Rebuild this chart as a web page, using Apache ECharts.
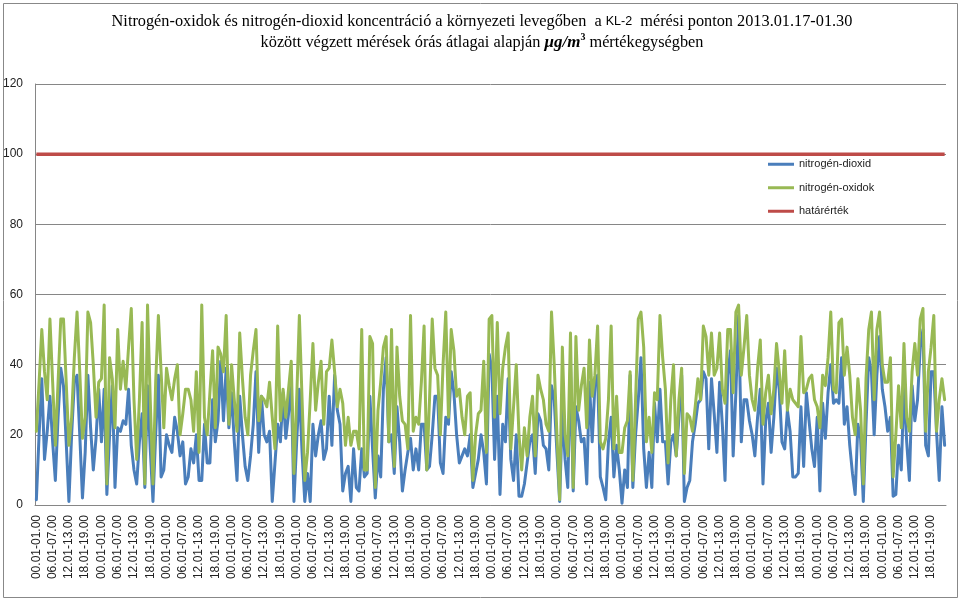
<!DOCTYPE html>
<html>
<head>
<meta charset="utf-8">
<script src="https://cdn.jsdelivr.net/npm/echarts@6/dist/echarts.min.js"></script>
<style>
html,body{margin:0;padding:0;background:#fff;}
#chart{width:964px;height:598px;}
</style>
</head>
<body>
<div id="chart"></div>
<script>
// 24 hourly tick labels, repeated for the 14 days 2013.01.17-01.30
var hourLabels = ["00.01-01.00","01.01-02.00","02.01-03.00","03.01-04.00","04.01-05.00","05.01-06.00",
  "06.01-07.00","07.01-08.00","08.01-09.00","09.01-10.00","10.01-11.00","11.01-12.00",
  "12.01-13.00","13.01-14.00","14.01-15.00","15.01-16.00","16.01-17.00","17.01-18.00",
  "18.01-19.00","19.01-20.00","20.01-21.00","21.01-22.00","22.01-23.00","23.01-24.00"];
var dayCount = 14;
var yTicks = [0, 20, 40, 60, 80, 100, 120];
var seriesNames = ["nitrogén-dioxid", "nitrogén-oxidok", "határérték"];
var limitValue = 100;

var no2 = [
1.5,20,36,13,21,31,18,7,25,39,34,18,1,20,35,37,20,2,15,37,22,10,19,33,18,33,3,20,34,5,22,21,24,23,33,17,10,6,18,26,5,34,16,1,20,37,8,10,20,17,15,25,21,14,18,6,
8,16,12,20,7,7,23,12,12,30,18,24,41,24,39,22,32,18,7,31,20,11,7,14,23,38,15,31,20,18,21,1,12,23,18,32,19,26,35,1,18,33,15,1,9,1,23,14,20,24,13,16,31,17,37,27,
23,4,9,11,1,16,5,4,16,8,9,31,16,2,14,8,33,42,18,20,9,28,18,4,10,15,19,10,16,10,23,23,10,11,20,31,31,12,9,25,23,38,32,20,12,14,16,14,20,5,9,13,20,15,6,43,
39,13,31,3,23,18,36,13,7,20,2.5,2.5,6,12,18,20,9,26,24,17,16,10,34,30,15,1,27,13,5,40,4,28,24,18,19,6,35,18,34,37,8,5,1.5,18,25,8,17,10,0.5,10,5,37,5,20,30,42,
16,5,15,5,29,18,33,18,18,6,18,20,14,25,37,1,5,7,18,23,29,30,38,36,16,36,26,15,35,23,7,37,44,14,32,54,18,30,30,24,20,14,25,33,6,24,29,15,25,39,33,18,16,27,21,8,
8,9,28,11,32,24,16,11,25,4,29,19,32,40,29,30,29,42,23,28,17,9,3,23,19,1,23,42,38,20,37,48,33,28,21,25,2.5,3,17,10,34,18,7,34,24,30,45,50,17,14,38,38,21,7,28,17
];
var nox = [
21,35,50,38,30,53,35,17,35,53,53,35,17,25,42,55,38,19,25,55,52,40,25,35,36,57,6,42,36,22,50,33,41,33,45,56,30,13,30,52,6,57,30,6,35,54,38,22,39,34,30,36,40,20,26,33,
33,30,21,38,15,57,25,20,32,44,22,45,43,38,54,23,40,30,21,49,36,25,20,37,44,50,24,31,30,28,35,25,16,51,24,33,25,33,41,9,30,54,30,7,15,30,46,27,35,41,23,38,39,47,38,28,
33,29,17,25,17,21,21,16,50,10,10,48,46,5,27,35,45,48,18,50,11,45,31,24,23,16,54,21,25,23,35,51,10,30,53,39,37,20,40,55,25,50,44,31,33,25,20,31,32,7,20,26,27,41,15,53,
54,25,52,26,39,45,49,16,28,40,20,10,22,14,25,31,14,37,33,30,23,21,55,40,20,1.5,45,20,14,49,5,48,27,34,39,22,47,31,37,51,18,16,19,30,51,16,31,15,15,22,24,38,7,30,53,55,
45,18,25,15,32,30,54,42,33,12,30,40,14,30,39,9,26,25,21,28,36,30,51,48,37,49,37,39,49,33,29,50,50,32,55,57,37,45,54,37,30,27,39,47,23,32,37,26,33,46,38,29,44,27,33,30,
29,28,48,32,33,36,37,30,28,22,37,34,42,55,33,32,52,53,37,45,37,25,20,36,27,6,36,50,55,30,50,55,40,35,35,42,8,20,34,22,46,25,21,38,46,37,53,56,21,38,45,54,21,30,36,30
];

var categories = [];
for (var d = 0; d < dayCount; d++) { categories = categories.concat(hourLabels); }
var limit = categories.map(function(){ return limitValue; });

var chart = echarts.init(document.getElementById('chart'), null, {renderer: 'canvas'});
var option = {
  backgroundColor: '#ffffff',
  animation: false,
  title: {
    left: 'center',
    top: 6,
    text: '{a|Nitrogén-oxidok és nitrogén-dioxid koncentráció a környezeti levegőben  a }{k|KL-2}{a|  mérési ponton 2013.01.17-01.30}\n{a|között végzett mérések órás átlagai alapján }{b|μg/m}{s|3}{a| mértékegységben}',
    textStyle: {
      fontWeight: 'normal',
      rich: {
        a: {fontFamily: 'Liberation Serif', fontSize: 16.3, fontWeight: 'normal', color: '#000', lineHeight: 21},
        k: {fontFamily: 'Liberation Sans', fontSize: 12.5, fontWeight: 'normal', color: '#000', lineHeight: 21},
        b: {fontFamily: 'Liberation Serif', fontSize: 17, fontWeight: 'bold', fontStyle: 'italic', color: '#000', lineHeight: 21},
        s: {fontFamily: 'Liberation Serif', fontSize: 10, fontWeight: 'bold', color: '#000', lineHeight: 21, verticalAlign: 'top', padding: [0, 0, 6, 0]}
      }
    }
  },
  legend: {
    orient: 'vertical',
    left: 763,
    top: 153,
    itemWidth: 26,
    itemHeight: 3,
    itemGap: 11,
    icon: 'rect',
    data: seriesNames,
    textStyle: {fontFamily: 'Liberation Sans', fontSize: 11, color: '#222', lineHeight: 12.5}
  },
  grid: {left: 35, right: 18, top: 84, bottom: 93, containLabel: false},
  xAxis: {
    type: 'category',
    data: categories,
    boundaryGap: true,
    axisLine: {lineStyle: {color: '#868686', width: 1}},
    axisTick: {show: false},
    axisLabel: {
      interval: 5,
      rotate: 90,
      margin: 10,
      fontFamily: 'Liberation Sans',
      fontSize: 12,
      color: '#222'
    },
    splitLine: {show: false}
  },
  yAxis: {
    type: 'value',
    min: yTicks[0],
    max: yTicks[yTicks.length - 1],
    interval: yTicks[1] - yTicks[0],
    axisLine: {show: true, lineStyle: {color: '#868686', width: 1}},
    axisTick: {show: false},
    axisLabel: {margin: 12, fontFamily: 'Liberation Sans', fontSize: 12, color: '#222'},
    splitLine: {lineStyle: {color: '#868686', width: 1}}
  },
  series: [
    {name: seriesNames[0], type: 'line', data: no2, showSymbol: false, symbol: 'none',
     color: '#4A7EBB', lineStyle: {width: 3, color: '#4A7EBB', cap: 'round', join: 'round'}},
    {name: seriesNames[1], type: 'line', data: nox, showSymbol: false, symbol: 'none',
     color: '#98B954', lineStyle: {width: 3, color: '#98B954', cap: 'round', join: 'round'}},
    {name: seriesNames[2], type: 'line', data: limit, showSymbol: false, symbol: 'none',
     color: '#BE4B48', lineStyle: {width: 3.5, color: '#BE4B48'}}
  ],
  graphic: [
    {type: 'rect', left: 1, top: 1, shape: {x: 0, y: 0, width: 954, height: 594},
     style: {fill: 'none', stroke: '#888', lineWidth: 1}, silent: true}
  ]
};
chart.setOption(option);
</script>
</body>
</html>
